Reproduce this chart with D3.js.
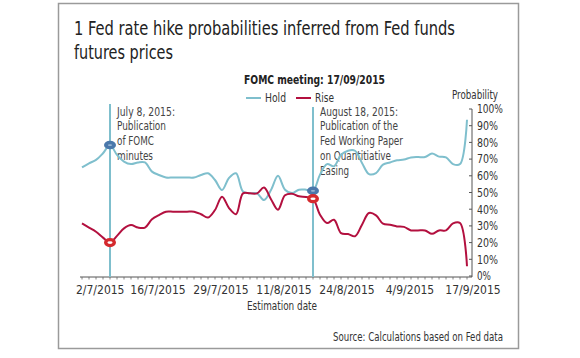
<!DOCTYPE html>
<html>
<head>
<meta charset="utf-8">
<script src="https://cdn.jsdelivr.net/npm/d3@7"></script>
<style>
  html, body { margin: 0; padding: 0; background: #fff; }
  svg text { font-family: "DejaVu Sans Condensed", "Liberation Sans Narrow", "Open Sans", sans-serif; fill: #333; }
</style>
</head>
<body>
<svg id="chart" width="580" height="358"></svg>
<script>
// ---- data ----
const startDate = "2015-07-02";
const endDate = "2015-09-17";
const holdValues = [65,67.5,69.5,73.5,78.4,72.5,68.5,67,68,68,
  62.5,60.5,59,59,59,59,59,60.5,61.5,57.5,
  51.5,58.7,61.5,50.6,49.5,49.5,45.5,51.5,60,51.7,
  49.7,51.7,51.7,51,60.7,67,65.7,72.6,75,75,
  67.7,61,61.6,66.7,68,69.3,69.7,71,71.2,71.2,
  73.3,71.5,71,67,67,93.6];
const riseValues = [31.5,29,26.5,23,20,24,28.5,30.5,29,29,
  34,36.5,38.5,38.5,38.5,38.5,38.5,37,35,39.5,
  47.5,40.7,37,49.5,49.5,49.5,53,46,39.7,48.3,
  49.3,47.7,47.3,46.3,36.7,31.7,33.7,25.7,25.1,23.8,
  30.7,37.7,36.3,31.3,30.7,29.7,29.4,27.3,27.3,27.3,
  25.3,27.3,27.3,31.5,31.7,5.8];
const xTickLabels = ["2/7/2015","16/7/2015","29/7/2015","11/8/2015","24/8/2015","4/9/2015","17/9/2015"];
const yTicks = [0,10,20,30,40,50,60,70,80,90,100];
const seriesNames = ["Hold","Rise"];
const eventDates = ["8/7/2015","18/8/2015"];
const eventTexts = [
  ["July 8, 2015:","Publication","of FOMC","minutes"],
  ["August 18, 2015:","Publication of the","Fed Working Paper","on Quantitiative","Easing"]
];

// ---- categories: weekdays ----
const parse = d3.timeParse("%Y-%m-%d");
const fmt = d => `${d.getDate()}/${d.getMonth()+1}/${d.getFullYear()}`;
const days = d3.timeDay.range(parse(startDate), d3.timeDay.offset(parse(endDate), 1))
  .filter(d => d.getDay() !== 0 && d.getDay() !== 6);
const dayLabels = days.map(fmt);

// squeeze a text to the width it has in the reference (condensed face)
function fitW(sel, w) {
  sel.each(function(d, i) {
    const ww = typeof w === "function" ? w(d, i, this) : w;
    const nat = this.getComputedTextLength();
    if (nat > ww) d3.select(this).attr("textLength", ww).attr("lengthAdjust", "spacingAndGlyphs");
  });
  return sel;
}

const svg = d3.select("#chart");
svg.append("rect").attr("x",0).attr("y",0).attr("width",580).attr("height",358).attr("fill","#fff");
svg.append("rect").attr("x",58.5).attr("y",3.5).attr("width",460).attr("height",345)
  .attr("fill","none").attr("stroke","#9a9a9a").attr("stroke-width",1.5);

const x = d3.scaleLinear().domain([0, days.length-1]).range([82, 467]);
const y = d3.scaleLinear().domain([0,100]).range([276, 109]);

const holdColor = "#7fbfcd", riseColor = "#b3103f";

// title
fitW(svg.append("text").attr("x",74).attr("y",35).style("font-size","19px").style("fill","#222")
  .text("1 Fed rate hike probabilities inferred from Fed funds"), 381);
fitW(svg.append("text").attr("x",74).attr("y",59).style("font-size","19px").style("fill","#222")
  .text("futures prices"), 99);

// subtitle & legend
fitW(svg.append("text").attr("x",244).attr("y",84)
  .style("font-size","12px").style("font-weight","bold").style("fill","#222")
  .text("FOMC meeting: 17/09/2015"), 141);
const legend = svg.append("g");
[[246, holdColor, seriesNames[0], 21],[296, riseColor, seriesNames[1], 19]].forEach(([lx,c,t,w]) => {
  legend.append("line").attr("x1",lx).attr("x2",lx+15).attr("y1",98).attr("y2",98)
    .attr("stroke",c).attr("stroke-width",2);
  fitW(legend.append("text").attr("x",lx+19).attr("y",101.5).style("font-size","11.5px").text(t), w);
});

// y axis
const yAxis = d3.axisRight(y).tickValues(yTicks).tickFormat(d => d + "%").tickSize(0).tickPadding(5);
const ya = svg.append("g").attr("transform","translate(472,0)").call(yAxis);
ya.select(".domain").remove();
fitW(ya.selectAll("text").attr("font-family", null).attr("font-size", null).style("font-size","12px").attr("fill","#333"),
  d => d === 100 ? 26 : d === 0 ? 14 : 21);
svg.append("line").attr("x1",472).attr("x2",472).attr("y1",109).attr("y2",277).attr("stroke","#555").attr("stroke-width",1);
svg.append("g").selectAll("line").data(yTicks).join("line")
  .attr("x1",469).attr("x2",472).attr("y1",d=>y(d)).attr("y2",d=>y(d)).attr("stroke","#555");
fitW(svg.append("text").attr("x",452).attr("y",99).style("font-size","12px").text("Probability"), 46);

// x axis
svg.append("line").attr("x1",80).attr("x2",472).attr("y1",277).attr("y2",277).attr("stroke","#555").attr("stroke-width",1);
svg.append("g").selectAll("line").data(d3.range(days.length)).join("line")
  .attr("x1",d=>x(d)).attr("x2",d=>x(d)).attr("y1",277).attr("y2",279.5).attr("stroke","#666").attr("stroke-width",0.8);
const tickIdx = xTickLabels.map(l => dayLabels.indexOf(l));
svg.append("g").selectAll("text").data(tickIdx).join("text")
  .attr("x",(d,i)=> i===0 ? x(d)-6 : x(d)+6).attr("y",293.5)
  .attr("text-anchor",(d,i)=> i===0 ? "start" : "middle").style("font-size","12px")
  .text((d,i)=>xTickLabels[i]);
fitW(svg.append("text").attr("x",247).attr("y",310).style("font-size","12.5px").text("Estimation date"), 70);
fitW(svg.append("text").attr("x",333).attr("y",341).style("font-size","11.5px").text("Source: Calculations based on Fed data"), 170);

// event lines
const evIdx = eventDates.map(l => dayLabels.indexOf(l));
const evTop = [104, 107];
const evWidths = [[58,49,37,36],[78,78,83,71,29]];
evIdx.forEach((ei,k) => {
  svg.append("line").attr("x1",x(ei)).attr("x2",x(ei)).attr("y1",evTop[k]).attr("y2",277)
    .attr("stroke",holdColor).attr("stroke-width",2);
  eventTexts[k].forEach((ln,j) => {
    fitW(svg.append("text").attr("x",x(ei)+7).attr("y",115.5 + j*14.8)
      .style("font-size","12px").style("fill","#444").text(ln), evWidths[k][j]);
  });
});

// lines
const line = d3.line().x((d,i)=>x(i)).y(d=>y(d)).curve(d3.curveCatmullRom.alpha(0.5));
svg.append("path").datum(holdValues).attr("d",line).attr("fill","none").attr("stroke",holdColor).attr("stroke-width",2);
svg.append("path").datum(riseValues).attr("d",line).attr("fill","none").attr("stroke",riseColor).attr("stroke-width",2);

// markers
evIdx.forEach(ei => {
  svg.append("ellipse").attr("cx",x(ei)).attr("cy",y(holdValues[ei])).attr("rx",6).attr("ry",4.3).attr("fill","#4a78ab");
  svg.append("ellipse").attr("cx",x(ei)).attr("cy",y(holdValues[ei])).attr("rx",2.2).attr("ry",0.9).attr("fill","#9bb8d6");
  svg.append("ellipse").attr("cx",x(ei)).attr("cy",y(riseValues[ei])).attr("rx",6).attr("ry",4.6).attr("fill","#d42a2e");
  svg.append("ellipse").attr("cx",x(ei)).attr("cy",y(riseValues[ei])).attr("rx",2.6).attr("ry",1.3).attr("fill","#fff");
});
</script>
</body>
</html>
